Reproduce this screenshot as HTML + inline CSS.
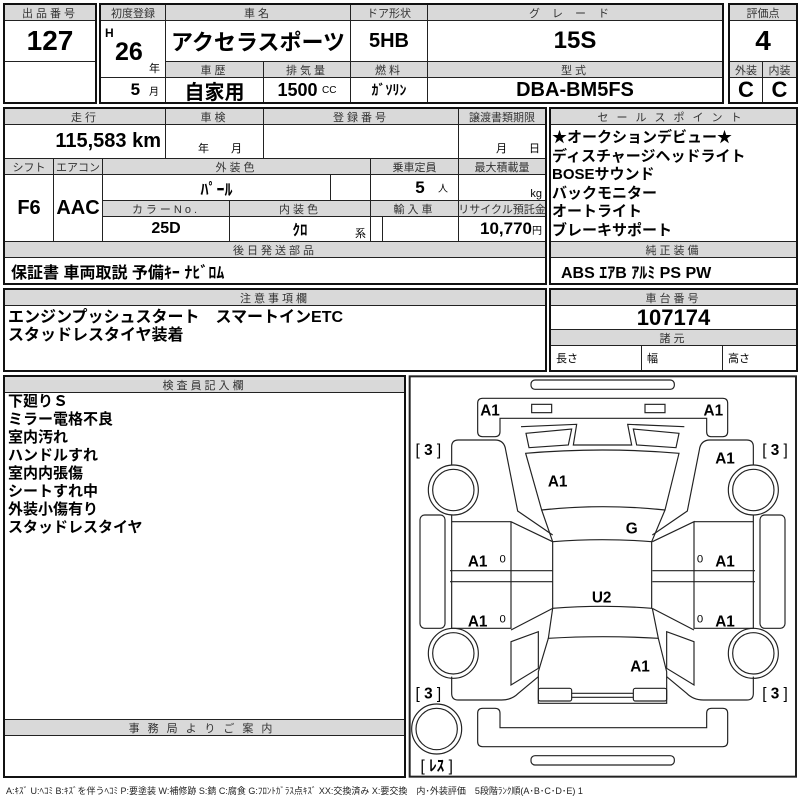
<!DOCTYPE html>
<html><head><meta charset="utf-8">
<style>
*{margin:0;padding:0;box-sizing:border-box}
body{width:800px;height:800px;background:#fff;position:relative;overflow:hidden;font-family:"Liberation Sans","Noto Sans CJK JP",sans-serif;color:#000}
.c{position:absolute;border:1px solid #222;display:flex;align-items:center;justify-content:center;white-space:nowrap;overflow:hidden}
.h{background:#d9d9d9;font-size:11px;color:#333;letter-spacing:3px}
.o{position:absolute;border:2px solid #111}
.v{font-weight:bold;font-family:"Liberation Sans Narrow","Liberation Sans","Noto Sans CJK JP",sans-serif}
.t{position:absolute;font-weight:bold;font-size:15px;line-height:18px;white-space:nowrap}
.s{font-size:10px;font-weight:normal}
</style></head><body>
<div class="c h" style="left:4px;top:4px;width:92px;height:17px">出品番号</div>
<div class="c v" style="left:4px;top:20px;width:92px;height:42px;font-size:28px">127</div>
<div class="c" style="left:4px;top:61px;width:92px;height:42px"></div>
<div class="o" style="left:3px;top:3px;width:94px;height:101px"></div>
<div class="c h" style="left:100px;top:4px;width:66px;height:17px;letter-spacing:0">初度登録</div>
<div class="c h" style="left:165px;top:4px;width:186px;height:17px">車名</div>
<div class="c h" style="left:350px;top:4px;width:78px;height:17px;letter-spacing:0">ドア形状</div>
<div class="c h" style="left:427px;top:4px;width:296px;height:17px;letter-spacing:12px">グレード</div>
<div class="c" style="left:100px;top:20px;width:66px;height:58px"></div>
<div class="t v" style="left:105px;top:24px;font-size:12px">H</div>
<div class="t v" style="left:115px;top:38px;font-size:25px;line-height:28px">26</div>
<div class="t" style="left:149px;top:60px;font-size:11px;font-weight:normal">年</div>
<div class="c v" style="left:165px;top:20px;width:186px;height:42px;font-size:22px">アクセラスポーツ</div>
<div class="c v" style="left:350px;top:20px;width:78px;height:42px;font-size:20px">5HB</div>
<div class="c v" style="left:427px;top:20px;width:296px;height:42px;font-size:24px">15S</div>
<div class="c h" style="left:165px;top:61px;width:99px;height:17px">車歴</div>
<div class="c h" style="left:263px;top:61px;width:88px;height:17px">排気量</div>
<div class="c h" style="left:350px;top:61px;width:78px;height:17px">燃料</div>
<div class="c h" style="left:427px;top:61px;width:296px;height:17px">型式</div>
<div class="c" style="left:100px;top:77px;width:66px;height:26px;justify-content:flex-end;padding-right:6px"><span class="v" style="font-size:17px">5</span>&nbsp;&nbsp;<span class="s">月</span></div>
<div class="c v" style="left:165px;top:77px;width:99px;height:26px;font-size:20px">自家用</div>
<div class="c" style="left:263px;top:77px;width:88px;height:26px"><span class="v" style="font-size:18px">1500</span>&nbsp;<span class="s">CC</span></div>
<div class="c v" style="left:350px;top:77px;width:78px;height:26px;font-size:14px">ｶﾞｿﾘﾝ</div>
<div class="c v" style="left:427px;top:77px;width:296px;height:26px;font-size:20px">DBA-BM5FS</div>
<div class="o" style="left:99px;top:3px;width:625px;height:101px"></div>
<div class="c h" style="left:729px;top:4px;width:68px;height:17px;letter-spacing:0">評価点</div>
<div class="c v" style="left:729px;top:20px;width:68px;height:42px;font-size:28px">4</div>
<div class="c h" style="left:729px;top:61px;width:34px;height:17px;letter-spacing:0">外装</div>
<div class="c h" style="left:762px;top:61px;width:35px;height:17px;letter-spacing:0">内装</div>
<div class="c v" style="left:729px;top:77px;width:34px;height:26px;font-size:22px">C</div>
<div class="c v" style="left:762px;top:77px;width:35px;height:26px;font-size:22px">C</div>
<div class="o" style="left:728px;top:3px;width:70px;height:101px"></div>
<div class="c h" style="left:4px;top:108px;width:162px;height:17px">走行</div>
<div class="c h" style="left:165px;top:108px;width:99px;height:17px">車検</div>
<div class="c h" style="left:263px;top:108px;width:196px;height:17px">登録番号</div>
<div class="c h" style="left:458px;top:108px;width:88px;height:17px;letter-spacing:0">譲渡書類期限</div>
<div class="c" style="left:4px;top:124px;width:162px;height:35px;justify-content:flex-end;padding-right:4px"><span class="v" style="font-size:20px">115,583 km</span></div>
<div class="c" style="left:165px;top:124px;width:99px;height:35px;align-items:flex-end;font-size:11px;padding-bottom:2px">　年　　月</div>
<div class="c" style="left:263px;top:124px;width:196px;height:35px"></div>
<div class="c" style="left:458px;top:124px;width:88px;height:35px;align-items:flex-end;justify-content:flex-end;font-size:11px;padding:0 5px 2px 0">月　　日</div>
<div class="c h" style="left:4px;top:158px;width:50px;height:17px;letter-spacing:0">シフト</div>
<div class="c h" style="left:53px;top:158px;width:50px;height:17px;letter-spacing:0">エアコン</div>
<div class="c h" style="left:102px;top:158px;width:269px;height:17px">外装色</div>
<div class="c h" style="left:370px;top:158px;width:89px;height:17px;letter-spacing:0">乗車定員</div>
<div class="c h" style="left:458px;top:158px;width:88px;height:17px;letter-spacing:0">最大積載量</div>
<div class="c v" style="left:4px;top:174px;width:50px;height:68px;font-size:20px">F6</div>
<div class="c v" style="left:53px;top:174px;width:50px;height:68px;font-size:20px">AAC</div>
<div class="c v" style="left:102px;top:174px;width:229px;height:27px;font-size:16px">ﾊﾟｰﾙ</div>
<div class="c" style="left:330px;top:174px;width:41px;height:27px"></div>
<div class="c" style="left:370px;top:174px;width:89px;height:27px;justify-content:flex-end;padding-right:10px"><span class="v" style="font-size:17px">5</span>&nbsp;&nbsp;&nbsp;<span class="s">人</span></div>
<div class="c" style="left:458px;top:174px;width:88px;height:27px;justify-content:flex-end;padding-right:3px;font-size:11px;align-items:flex-end">kg</div>
<div class="c h" style="left:102px;top:200px;width:128px;height:17px">カラーNo.</div>
<div class="c h" style="left:229px;top:200px;width:142px;height:17px">内装色</div>
<div class="c h" style="left:370px;top:200px;width:89px;height:17px">輸入車</div>
<div class="c h" style="left:458px;top:200px;width:88px;height:17px;letter-spacing:0">リサイクル預託金</div>
<div class="c v" style="left:102px;top:216px;width:128px;height:26px;font-size:16px">25D</div>
<div class="c" style="left:229px;top:216px;width:142px;height:26px"><span class="v" style="font-size:15px">ｸﾛ</span></div>
<div class="t" style="left:355px;top:225px;font-size:11px;font-weight:normal">系</div>
<div class="c" style="left:370px;top:216px;width:13px;height:26px"></div>
<div class="c" style="left:382px;top:216px;width:77px;height:26px"></div>
<div class="c" style="left:458px;top:216px;width:88px;height:26px;justify-content:flex-end;padding-right:3px"><span class="v" style="font-size:17px">10,770</span><span class="s">円</span></div>
<div class="c h" style="left:4px;top:241px;width:542px;height:17px">後日発送部品</div>
<div class="c" style="left:4px;top:257px;width:542px;height:27px;justify-content:flex-start;padding-left:6px"><span class="v" style="font-size:16px">保証書 車両取説 予備ｷｰ ﾅﾋﾞﾛﾑ</span></div>
<div class="o" style="left:3px;top:107px;width:544px;height:178px"></div>
<div class="c h" style="left:550px;top:108px;width:247px;height:17px;letter-spacing:8px">セールスポイント</div>
<div class="c" style="left:550px;top:124px;width:247px;height:118px"></div>
<div class="t" style="left:552px;top:129px;line-height:18.5px">★オークションデビュー★<br>ディスチャージヘッドライト<br>BOSEサウンド<br>バックモニター<br>オートライト<br>ブレーキサポート</div>
<div class="c h" style="left:550px;top:241px;width:247px;height:17px">純正装備</div>
<div class="c" style="left:550px;top:257px;width:247px;height:27px;justify-content:flex-start;padding-left:10px"><span class="v" style="font-size:16px">ABS ｴｱB ｱﾙﾐ PS PW</span></div>
<div class="o" style="left:549px;top:107px;width:249px;height:178px"></div>
<div class="c h" style="left:4px;top:289px;width:542px;height:17px">注意事項欄</div>
<div class="c" style="left:4px;top:305px;width:542px;height:66px"></div>
<div class="t" style="left:8px;top:309px;font-size:16px">エンジンプッシュスタート　スマートインETC<br>スタッドレスタイヤ装着</div>
<div class="o" style="left:3px;top:288px;width:544px;height:84px"></div>
<div class="c h" style="left:550px;top:289px;width:247px;height:17px">車台番号</div>
<div class="c v" style="left:550px;top:305px;width:247px;height:25px;font-size:22px">107174</div>
<div class="c h" style="left:550px;top:329px;width:247px;height:17px">諸元</div>
<div class="c" style="left:550px;top:345px;width:92px;height:26px;justify-content:flex-start;padding-left:5px;font-size:11px">長さ</div>
<div class="c" style="left:641px;top:345px;width:82px;height:26px;justify-content:flex-start;padding-left:5px;font-size:11px">幅</div>
<div class="c" style="left:722px;top:345px;width:75px;height:26px;justify-content:flex-start;padding-left:5px;font-size:11px">高さ</div>
<div class="o" style="left:549px;top:288px;width:249px;height:84px"></div>
<div class="c h" style="left:4px;top:376px;width:401px;height:17px">検査員記入欄</div>
<div class="c" style="left:4px;top:392px;width:401px;height:328px"></div>
<div class="t" style="left:8px;top:393px;line-height:18px">下廻りＳ<br>ミラー電格不良<br>室内汚れ<br>ハンドルすれ<br>室内内張傷<br>シートすれ中<br>外装小傷有り<br>スタッドレスタイヤ</div>
<div class="c h" style="left:4px;top:719px;width:401px;height:17px;letter-spacing:8px">事務局よりご案内</div>
<div class="c" style="left:4px;top:735px;width:401px;height:42px"></div>
<div class="o" style="left:3px;top:375px;width:403px;height:403px"></div>
<svg style="position:absolute;left:405px;top:375px" width="395" height="420" viewBox="0 0 1185 1260" fill="none" stroke="#222" stroke-width="3.5">
<rect x="14" y="4" width="1159" height="1201" stroke-width="6"/>
<rect x="378" y="15" width="430" height="28" rx="12"/>
<path d="M218,85 Q218,70 233,70 L953,70 Q968,70 968,85 L968,170 Q968,185 953,185 L918,185 Q905,185 905,170 L905,130 L285,130 L285,170 Q285,185 270,185 L233,185 Q218,185 218,170 Z"/>
<rect x="380" y="88" width="60" height="25"/><rect x="720" y="88" width="60" height="25"/>
<path d="M348,155 L515,148 L505,210 L680,210 L668,148 L838,155"/>
<path d="M363,175 L500,162 L490,210 L372,218 Z"/><path d="M822,175 L685,162 L695,210 L813,218 Z"/>
<path d="M362,235 Q592,215 822,235 L780,405 Q592,385 410,405 Z"/>
<path d="M410,405 L443,500 Q592,488 740,500 L780,405"/>
<path d="M443,500 L443,700 Q592,688 740,700 L740,500"/>
<path d="M140,270 L140,215 Q140,195 160,195 L270,195 Q298,195 302,225 L338,408 L443,480"/>
<path d="M1045,270 L1045,215 Q1045,195 1025,195 L915,195 Q887,195 883,225 L847,408 L742,480"/>
<circle cx="145" cy="345" r="75"/><circle cx="145" cy="345" r="62"/>
<circle cx="1045" cy="345" r="75"/><circle cx="1045" cy="345" r="62"/>
<circle cx="145" cy="835" r="75"/><circle cx="145" cy="835" r="62"/>
<circle cx="1045" cy="835" r="75"/><circle cx="1045" cy="835" r="62"/>
<circle cx="95" cy="1062" r="75"/><circle cx="95" cy="1062" r="62"/>
<rect x="45" y="420" width="75" height="340" rx="14"/><rect x="1065" y="420" width="75" height="340" rx="14"/>
<path d="M140,420 L140,440 L318,440 L443,500 M140,420 L140,760 L318,760 L318,440 M135,587 L443,587 M135,620 L443,620 M318,620 L318,760 M443,700 L318,765"/>
<path d="M1045,420 L1045,760 L867,760 L867,440 L742,500 M1045,440 L867,440 M1050,587 L742,587 M1050,620 L742,620 M742,700 L867,765"/>
<path d="M443,700 L430,790 Q592,780 760,790 L742,700"/>
<path d="M430,790 L400,890 L400,985 L785,985 L785,890 L760,790"/>
<path d="M318,800 L400,770 L400,880 L318,930 Z"/><path d="M867,800 L785,770 L785,880 L867,930 Z"/>
<path d="M140,905 L140,955 Q140,975 160,975 L290,975 Q320,975 340,955 L400,905"/>
<path d="M1045,905 L1045,955 Q1045,975 1025,975 L895,975 Q865,975 845,955 L785,905"/>
<rect x="400" y="940" width="100" height="38" rx="6"/><rect x="685" y="940" width="100" height="38" rx="6"/>
<path d="M500,955 L685,955 M500,967 L685,967"/>
<path d="M218,1015 Q218,1000 233,1000 L270,1000 Q285,1000 285,1015 L285,1058 L905,1058 L905,1015 Q905,1000 920,1000 L953,1000 Q968,1000 968,1015 L968,1100 Q968,1115 953,1115 L233,1115 Q218,1115 218,1100 Z"/>
<rect x="378" y="1142" width="430" height="28" rx="12"/>
<g fill="#000" stroke="none" font-family="Liberation Sans, sans-serif" font-weight="bold" font-size="46" text-anchor="middle">
<text x="255" y="122">A1</text><text x="925" y="122">A1</text><text x="960" y="265">A1</text><text x="458" y="335">A1</text>
<text x="680" y="475">G</text><text x="218" y="575">A1</text><text x="960" y="575">A1</text><text x="218" y="755">A1</text><text x="960" y="755">A1</text>
<text x="590" y="682">U2</text><text x="705" y="890">A1</text>
</g>
<g fill="#000" stroke="none" font-family="Liberation Sans, sans-serif" font-size="34" text-anchor="middle">
<text x="293" y="562">0</text><text x="885" y="562">0</text><text x="293" y="742">0</text><text x="885" y="742">0</text>
</g>
<g fill="#000" stroke="none" font-family="Liberation Sans, Noto Sans CJK JP, sans-serif" font-size="46" text-anchor="middle">
<text x="70" y="240">[ <tspan font-weight="bold">3</tspan> ]</text><text x="1110" y="240">[ <tspan font-weight="bold">3</tspan> ]</text><text x="70" y="970">[ <tspan font-weight="bold">3</tspan> ]</text><text x="1110" y="970">[ <tspan font-weight="bold">3</tspan> ]</text>
<text x="95" y="1188">[ <tspan font-weight="bold">ﾚｽ</tspan> ]</text>
</g>
</svg>
<div class="t" style="left:6px;top:782px;font-size:9px;font-weight:normal;color:#222">A:ｷｽﾞ U:ﾍｺﾐ B:ｷｽﾞを伴うﾍｺﾐ P:要塗装 W:補修跡 S:錆 C:腐食 G:ﾌﾛﾝﾄｶﾞﾗｽ点ｷｽﾞ XX:交換済み X:要交換　内･外装評価　5段階ﾗﾝｸ順(A･B･C･D･E) 1</div>
</body></html>
